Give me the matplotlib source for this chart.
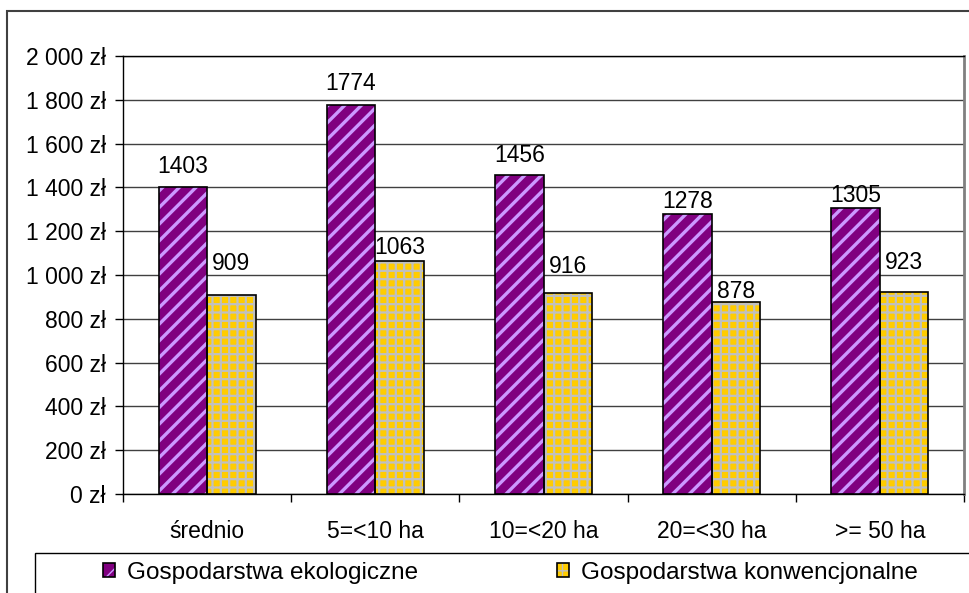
import matplotlib
matplotlib.use("Agg")
import matplotlib.pyplot as plt
from matplotlib.patches import Rectangle
from matplotlib.legend_handler import HandlerTuple
from matplotlib.ticker import FuncFormatter, FixedLocator
import numpy as np

categories = ["średnio", "5=<10 ha", "10=<20 ha", "20=<30 ha", ">= 50 ha"]
ekologiczne = [1403, 1774, 1456, 1278, 1305]
konwencjonalne = [909, 1063, 916, 878, 923]
series_names = ["Gospodarstwa ekologiczne", "Gospodarstwa konwencjonalne"]

# pixel gap between bar top and its value label
gap_eko = [14, 15, 13, 6, 6]
gap_konw = [25, 7, 20, 4, 23]

plt.rcParams["font.family"] = ["Liberation Sans", "DejaVu Sans"]

W, H = 969, 593
fig = plt.figure(figsize=(W / 100, H / 100), dpi=100)
ax = fig.add_axes([123 / W, 1 - 494 / H, (964 - 123) / W, (494 - 56) / H])

x = np.arange(len(categories))
w = 0.2885

with plt.rc_context({"hatch.linewidth": 2.4}):
    purple_fill = ax.bar(x - w / 2, ekologiczne, w, color="#800080",
                         hatch="//", edgecolor="#CC99FF", linewidth=0, zorder=3)
purple_edge = ax.bar(x - w / 2, ekologiczne, w, fill=False,
                     edgecolor="black", linewidth=1.2, zorder=4)
with plt.rc_context({"hatch.linewidth": 1.6}):
    yellow_fill = ax.bar(x + w / 2, konwencjonalne, w, color="#FFCC00",
                         hatch="++", edgecolor="#C0C0C0", linewidth=0, zorder=3)
yellow_edge = ax.bar(x + w / 2, konwencjonalne, w, fill=False,
                     edgecolor="black", linewidth=1.2, zorder=4)

for xs, vals, gaps in [(x - w / 2, ekologiczne, gap_eko),
                       (x + w / 2, konwencjonalne, gap_konw)]:
    for xi, v, g in zip(xs, vals, gaps):
        ax.annotate(str(v), (xi, v), xytext=(0, g), textcoords="offset pixels",
                    ha="center", va="baseline", fontsize=16.5)

ax.set_xlim(-0.5, len(categories) - 0.5)
ax.set_ylim(0, 2000)
ax.set_yticks(np.arange(0, 2001, 200))
ax.yaxis.set_major_formatter(FuncFormatter(
    lambda v, _: f"{v:,.0f}".replace(",", " ") + " zł"))
ax.set_xticks(x)
ax.set_xticklabels(categories)
ax.xaxis.set_minor_locator(FixedLocator(np.arange(-0.5, len(categories), 1.0)))
ax.tick_params(axis="x", which="major", length=0, pad=19, labelsize=16.5)
ax.tick_params(axis="x", which="minor", length=6, width=1, direction="out")
ax.tick_params(axis="y", length=5.5, width=1, pad=7, labelsize=16.5)

ax.grid(axis="y", color="#404040", linewidth=1, zorder=0)
ax.set_axisbelow(True)
for side in ["left", "bottom", "top"]:
    ax.spines[side].set_color("black")
    ax.spines[side].set_linewidth(1)
ax.spines["right"].set_color("#808080")
ax.spines["right"].set_linewidth(2)

# outer chart frame and legend box
fig.patches.append(Rectangle((7 / W, -1), 2, 1 + (1 - 11 / H), transform=fig.transFigure,
                             fill=False, edgecolor="#404040", linewidth=1.5))
fig.patches.append(Rectangle((35 / W, -1), 2, 1 + (1 - 553 / H), transform=fig.transFigure,
                             fill=False, edgecolor="black", linewidth=1))

fig.legend([(purple_fill, purple_edge), (yellow_fill, yellow_edge)], series_names,
           handler_map={tuple: HandlerTuple(ndivide=1)},
           loc="center left", bbox_to_anchor=(103 / W, 1 - 573 / H),
           ncol=2, frameon=False, fontsize=17.5, borderpad=0, borderaxespad=0,
           handlelength=0.5, handleheight=0.5, handletextpad=0.5, columnspacing=5.7)

fig.savefig("out.png", dpi=100)
